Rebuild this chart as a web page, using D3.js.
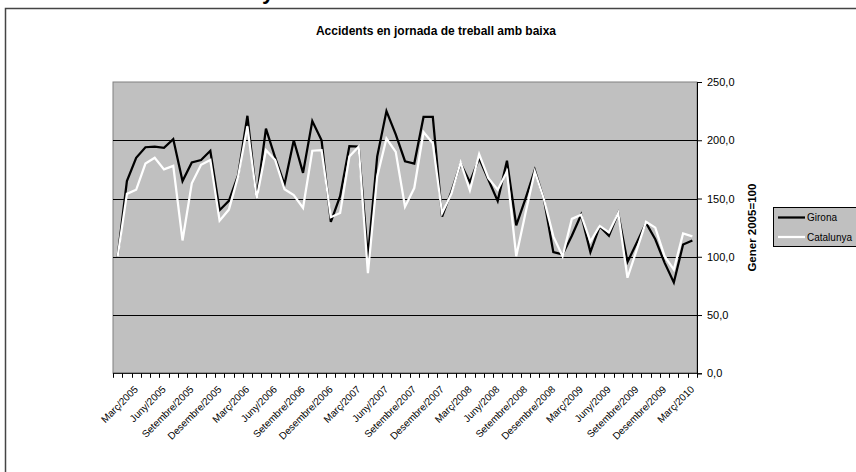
<!DOCTYPE html>
<html>
<head>
<meta charset="utf-8">
<script src="https://cdn.jsdelivr.net/npm/d3@7"></script>
<style>
  body { margin: 0; background: #fff; }
  svg { display: block; font-family: "Liberation Sans", Arial, sans-serif; }
</style>
</head>
<body>
<svg id="chart" width="856" height="472"></svg>
<script>
// Monthly index of work-day accidents with sick leave (January 2005 = 100)
const monthNames = ["Gener", "Febrer", "Març", "Abril", "Maig", "Juny", "Juliol",
                    "Agost", "Setembre", "Octubre", "Novembre", "Desembre"];
const years = [2005, 2006, 2007, 2008, 2009, 2010];
const lastMonthOf2010 = 3; // series runs up to Març/2010

const girona = [
  100, 165, 185, 194, 194.5, 193.5, 201, 165, 181, 183, 191, 140,
  148, 170, 221, 150, 210, 185, 162, 200, 172, 216.5, 200, 130,
  152, 195, 194.5, 100, 186, 225, 205, 182, 180, 220, 220, 134.5,
  156, 180, 164, 184.5, 166, 148, 182.5, 127, 150, 174.5, 149, 104,
  102, 118, 136, 104, 126, 118, 137.5, 95.5, 112, 129, 115, 95,
  78, 110.5, 114
];
const catalunya = [
  100, 154, 157.5, 180, 185, 175, 178, 114, 163, 179, 183, 131,
  140.5, 169, 212, 150, 191.5, 183, 158, 153, 142, 191, 191.5, 134,
  137.5, 186, 194.5, 86, 169, 201.5, 190, 143, 159, 207, 197.5, 137.5,
  154, 181, 157, 188, 167.5, 157.5, 173, 100.5, 137.5, 173, 149, 117.5,
  100.5, 132.5, 136, 113, 126.5, 121, 137.5, 82, 106, 130, 125, 100.5,
  89, 120, 117.5
];
const seriesNames = ["Girona", "Catalunya"];
const seriesColors = ["#000000", "#ffffff"];
const yTicks = [0, 50, 100, 150, 200, 250];
const titleText = "Accidents en jornada de treball amb baixa";
const yTitleText = "Gener 2005=100";

// Category labels "Mes/Any"
const categories = [];
years.forEach(yr => monthNames.forEach((m, i) => {
  if (yr < 2010 || i < lastMonthOf2010) categories.push(m + "/" + yr);
}));

const svg = d3.select("#chart");
const plot = { left: 113, right: 697, top: 82, bottom: 373.3 };

// heading fragment cut by the top edge of the page
svg.append("text").attr("x", 262).attr("y", -1)
  .attr("font-size", 22).attr("font-weight", "bold").text("y");

// chart area frame
svg.append("rect").attr("x", 5.5).attr("y", 8.5).attr("width", 862).attr("height", 480)
  .attr("fill", "#fff").attr("stroke", "#444").attr("stroke-width", 1.5);

svg.append("text").attr("x", 436).attr("y", 35).attr("text-anchor", "middle")
  .attr("font-size", 12).attr("font-weight", "bold").text(titleText);

const x = d3.scaleBand().domain(categories).range([plot.left, plot.right]);
const cx = c => x(c) + x.bandwidth() / 2;
const y = d3.scaleLinear().domain([0, 250]).range([plot.bottom, plot.top]);
const fmt = v => d3.format(".1f")(v).replace(".", ",");

// plot background
svg.append("rect").attr("x", plot.left).attr("y", plot.top)
  .attr("width", plot.right - plot.left).attr("height", plot.bottom - plot.top)
  .attr("fill", "#c0c0c0").attr("stroke", "#808080").attr("stroke-width", 1);

// horizontal gridlines
svg.append("g").selectAll("line").data(yTicks.filter(t => t > 0 && t < 250)).join("line")
  .attr("x1", plot.left).attr("x2", plot.right)
  .attr("y1", d => Math.round(y(d)) + 0.5).attr("y2", d => Math.round(y(d)) + 0.5)
  .attr("stroke", "#000").attr("stroke-width", 1);

// value axis on the right
const yAxis = svg.append("g").attr("transform", `translate(${plot.right},0)`)
  .call(d3.axisRight(y).tickValues(yTicks).tickSize(5).tickPadding(5).tickFormat(fmt));
yAxis.select(".domain").attr("stroke", "#000");
yAxis.selectAll("text").attr("font-size", 11).attr("font-family", "Liberation Sans, Arial, sans-serif")
  .attr("fill", "#000");

svg.append("text")
  .attr("transform", `translate(756,${(plot.top + plot.bottom) / 2}) rotate(-90)`)
  .attr("text-anchor", "middle").attr("font-size", 11.5).attr("font-weight", "bold")
  .text(yTitleText);

// category axis: ticks between categories, labels every third month
const xg = svg.append("g");
xg.append("line").attr("x1", plot.left).attr("x2", plot.right)
  .attr("y1", plot.bottom).attr("y2", plot.bottom).attr("stroke", "#000");
const edges = categories.map(c => x(c)).concat([plot.right]);
xg.selectAll("line.tick").data(edges).join("line").attr("class", "tick")
  .attr("x1", d => Math.round(d) + 0.5).attr("x2", d => Math.round(d) + 0.5)
  .attr("y1", plot.bottom).attr("y2", plot.bottom + 4.5).attr("stroke", "#000");
xg.selectAll("text").data(categories.filter((c, i) => i % 3 === 2)).join("text")
  .attr("transform", c => `translate(${cx(c) + 2.5},390) rotate(-45)`)
  .attr("text-anchor", "end").attr("font-size", 10).text(c => c);

// series lines
const line = d3.line().x((d, i) => cx(categories[i])).y(d => y(d));
[girona, catalunya].forEach((s, k) => {
  svg.append("path").datum(s).attr("d", line).attr("fill", "none")
    .attr("stroke", seriesColors[k]).attr("stroke-width", 2.25)
    .attr("stroke-linejoin", "miter");
});

// legend
const lg = svg.append("g").attr("transform", "translate(773,207)");
lg.append("rect").attr("x", 0.5).attr("y", 0.5).attr("width", 84).attr("height", 39)
  .attr("fill", "#c0c0c0").attr("stroke", "#000");
seriesNames.forEach((n, k) => {
  const yy = 10.5 + k * 19.5;
  lg.append("line").attr("x1", 5).attr("x2", 32).attr("y1", yy).attr("y2", yy)
    .attr("stroke", seriesColors[k]).attr("stroke-width", 2.25);
  lg.append("text").attr("x", 34).attr("y", yy + 3.5).attr("font-size", 10).text(n);
});
</script>
</body>
</html>
